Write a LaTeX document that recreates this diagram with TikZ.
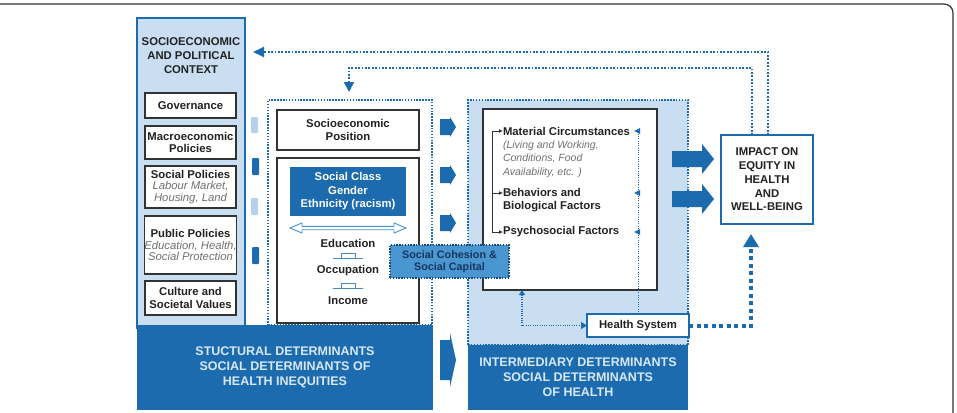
\documentclass[tikz,border=0pt]{standalone}
\usepackage{fontspec}
\setmainfont{Liberation Sans}
\usetikzlibrary{arrows.meta,calc}
\definecolor{dblue}{HTML}{1C6BAE}
\definecolor{lblue}{HTML}{C9DFF1}
\definecolor{mblue}{HTML}{4A96D0}
\definecolor{bandtxt}{HTML}{D8E8F6}
\definecolor{txt}{HTML}{222222}
\definecolor{itx}{HTML}{707070}
\definecolor{framec}{HTML}{333333}
\definecolor{paleblue}{HTML}{B5D2EA}
\definecolor{navy}{HTML}{17365F}
\newcommand\itg[1]{{\mdseries\itshape\color{itx}#1}}
\begin{document}
\begin{tikzpicture}[x=1pt,y=-1pt,
 every node/.style={inner sep=0pt, outer sep=0pt},
 lbl/.style={font=\bfseries\fontsize{11.3}{13.5}\selectfont, text=txt, align=center},
 itl/.style={font=\itshape\fontsize{10.5}{13.3}\selectfont, text=itx, align=left},
 panel/.style={draw=dblue, line width=1.6pt, fill=lblue},
 wbox/.style={draw=framec, line width=1.1pt, fill=white},
 band/.style={fill=dblue, text=bandtxt, font=\bfseries\fontsize{12.5}{15}\selectfont, align=center},
 dotbox/.style={draw=dblue, line width=1.5pt, dash pattern=on 1.5pt off 1.4pt},
 fb/.style={draw=dblue, line width=1.8pt, dash pattern=on 1.8pt off 1.6pt},
 thindot/.style={draw=dblue, line width=0.9pt, dash pattern=on 0.9pt off 1.4pt},
 brk/.style={draw=framec, line width=0.9pt},
]
\useasboundingbox (0,0) rectangle (957,412);
% outer frame
\draw[framec, line width=1.2pt, rounded corners=9pt] (-2,4) -- (953,4) -- (953,414);

% left panel
\node[panel, anchor=north west, minimum width=108, minimum height=310] (ctx) at (137,18) {};
\node[lbl, font=\bfseries\fontsize{11.3}{14}\selectfont] (ctxtitle) at (191,56) {SOCIOECONOMIC\\AND POLITICAL\\CONTEXT};
\node[wbox, lbl, minimum width=91, minimum height=25] (gov) at (190.5,105.5) {Governance};
\node[wbox, lbl, minimum width=91, minimum height=33, font=\bfseries\fontsize{11.3}{12.5}\selectfont] (macro) at (190.5,142.5) {Macroeconomic\\Policies};
\node[wbox, lbl, minimum width=91, minimum height=42, font=\bfseries\fontsize{11.3}{11.8}\selectfont] (socpol) at (190.5,187) {Social Policies\\\itg{Labour Market,}\\\itg{Housing, Land}};
\node[wbox, lbl, minimum width=91, minimum height=58, font=\bfseries\fontsize{11.3}{11.5}\selectfont] (pubpol) at (190.5,245) {Public Policies\\\itg{Education, Health,}\\\itg{Social Protection}};
\node[wbox, lbl, minimum width=91, minimum height=34, font=\bfseries\fontsize{11.3}{13}\selectfont] (culture) at (190.5,298) {Culture and\\Societal Values};

% small side tabs
\fill[paleblue, rounded corners=1pt] (251,117) rectangle (258,133);
\fill[dblue, rounded corners=1pt] (252,158) rectangle (259,175);
\fill[paleblue, rounded corners=1pt] (251,198) rectangle (258,215);
\fill[dblue, rounded corners=1pt] (252,247) rectangle (259,264);

% structural block
\node[dotbox, anchor=north west, minimum width=164, minimum height=225] (structbox) at (268,100) {};
\node[wbox, lbl, minimum width=142, minimum height=40] (sep) at (348,130) {Socioeconomic\\Position};
\node[wbox, anchor=north west, minimum width=142, minimum height=165] (secbox) at (277,158) {};
\node[fill=dblue, lbl, text=white, minimum width=116, minimum height=49] (class) at (348,191.5) {Social Class\\Gender\\Ethnicity (racism)};
\draw[draw=mblue, fill=white, line width=0.9pt] (290,228) -- (302,223) -- (302,226.3) -- (394,226.3) -- (394,223) -- (406,228) -- (394,233) -- (394,229.7) -- (302,229.7) -- (302,233) -- cycle;
\node[lbl] (edu) at (348,243) {Education};
\node[lbl] (occ) at (348,271) {Occupation};
\node[lbl] (inc) at (348,301) {Income};
\foreach \c in {258,288}{
  \draw[dblue!80, line width=0.8pt, fill=white] (341,\c) rectangle (355,\c-5);
  \draw[dblue!80, line width=0.8pt] (333,\c) -- (363,\c);
}
\node[band, minimum width=296, minimum height=85] (sband) at (285,367.5) {STUCTURAL DETERMINANTS\\SOCIAL DETERMINANTS OF\\HEALTH INEQUITIES};

% middle block arrows
\foreach \c in {127,175,223}{
  \fill[dblue] (440,\c-8) -- (450,\c-8) -- (450,\c-10) -- (456,\c) -- (450,\c+10) -- (450,\c+8) -- (440,\c+8) -- cycle;
}
\fill[dblue] (440,340) -- (450,340) -- (450,333) -- (456,360) -- (450,387) -- (450,380) -- (440,380) -- cycle;

% intermediary block
\node[dotbox, fill=lblue, anchor=north west, minimum width=220, minimum height=245] (interbox) at (468,100) {};
\node[wbox, anchor=north west, minimum width=174, minimum height=181] (matbox) at (483,109) {};
\node[lbl, anchor=west] (mat) at (503,131) {Material Circumstances};
\node[itl, anchor=north west] (matdet) at (503,141) {(Living and Working,\\Conditions, Food\\Availability, etc. )};
\node[lbl, anchor=north west, align=left, font=\bfseries\fontsize{11.3}{13}\selectfont] (behav) at (503,188) {Behaviors and\\Biological Factors};
\node[lbl, anchor=west] (psy) at (503,232) {Psychosocial Factors};
\coordinate (behavarr) at (503,193);
\draw[brk, -{Latex[length=4pt,width=4pt]}] (492,131) -- (mat.west);
\draw[brk, -{Latex[length=4pt,width=4pt]}] (492,131) |- (psy.west);
\draw[brk, -{Latex[length=4pt,width=4pt]}] (492,193) -- (behavarr);

\node[draw=dblue, line width=1.6pt, fill=white, lbl, minimum width=102, minimum height=23] (hs) at (638,325.5) {Health System};
\draw[thindot] (hs.north) -- (638,131);
\foreach \c in {131,193,232}{
  \fill[dblue] (634,\c) -- (640,\c-3) -- (640,\c+3) -- cycle;
}
\coordinate (matbot) at (522,290);
\draw[thindot, line width=1.1pt, {Triangle[length=5pt,width=6pt]}-{Triangle[length=6pt,width=7pt]}] (matbot) |- (hs.west);
\node[band, minimum width=220, minimum height=65] (iband) at (578,377.5) {INTERMEDIARY DETERMINANTS\\SOCIAL DETERMINANTS\\OF HEALTH};

% social cohesion
\node[fill=mblue, draw=dblue!70!black, line width=1.4pt, dash pattern=on 1.4pt off 1.4pt, lbl, text=navy, minimum width=119, minimum height=33, font=\bfseries\fontsize{10.8}{11.5}\selectfont] (cohes) at (449.5,261.5) {Social Cohesion \&\\Social Capital};

% impact
\foreach \c in {159,199}{
  \fill[dblue] (672,\c-8) -- (702,\c-8) -- (702,\c-15) -- (714,\c) -- (702,\c+15) -- (702,\c+8) -- (672,\c+8) -- cycle;
}
\node[draw=dblue, line width=2pt, fill=white, lbl, minimum width=92, minimum height=89, font=\bfseries\fontsize{11.3}{13.75}\selectfont] (impact) at (767,179.5) {IMPACT ON\\EQUITY IN\\HEALTH\\AND\\WELL-BEING};

% feedback loops
\coordinate (fbone) at (253,52);
\coordinate (fbtwo) at (349,92);
\draw[fb, -{Triangle[length=11pt,width=10pt]}] ($(impact.north)+(1,0)$) |- (fbone);
\draw[fb, -{Triangle[length=10pt,width=10pt]}] ($(impact.north)+(-15,0)$) |- ($(fbtwo)+(0,-24)$) -- (fbtwo);
\coordinate (hsend) at (751,234);
\draw[dblue, line width=4pt, dash pattern=on 4pt off 3.5pt, -{Triangle[length=13pt,width=15pt]}] (hs.east) -| (hsend);
\end{tikzpicture}
\end{document}
